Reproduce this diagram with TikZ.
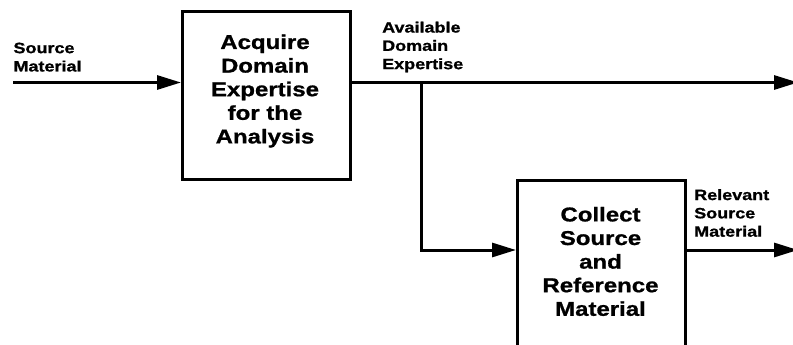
\documentclass[tikz,border=0pt]{standalone}
\usepackage{fontspec}
\newfontfamily\dfont[FakeStretch=1.2,FakeBold=1]{Liberation Sans Bold}
\usetikzlibrary{arrows.meta}
\tikzset{
  procbox/.style={draw, line width=3.4pt, minimum width=168pt, minimum height=167.5pt, inner sep=0pt, anchor=north west},
  boxtext/.style={font=\dfont\fontsize{20}{23.6}\selectfont, align=center, inner sep=0pt, anchor=north},
  lbl/.style={font=\dfont\fontsize{15}{18.3}\selectfont, align=left, inner sep=0pt, anchor=north west},
  flow/.style={line width=3pt, -{Triangle[length=24pt,width=14pt]}}
}
\begin{document}
\begin{tikzpicture}[x=1pt,y=-1pt]
\clip (0,0) rectangle (793,345);
% boxes
\node[procbox] (b1) at (181,10) {};
\node[procbox, minimum height=175pt] (b2) at (516,179) {};
\node[boxtext] (t1) at (265,34.3) {Acquire\\Domain\\Expertise\\for the\\Analysis};
\node[boxtext] (t2) at (600.5,206.7) {Collect\\Source\\and\\Reference\\Material};
% labels
\node[lbl] (lsrc) at (13.3,42.5) {Source\\Material};
\node[lbl] (lavail) at (382,21.5) {Available\\Domain\\Expertise};
\node[lbl] (lrel) at (694,189) {Relevant\\Source\\Material};
% coordinates
\coordinate (src) at (13,82.5);
\coordinate (outA) at (798,82.5);
\coordinate (br) at (421,82.5);
\coordinate (lvl2) at (0,250);
% connectors
\draw[flow] (src) -- (src -| b1.west);
\draw[flow] (src -| b1.east) -- (outA);
\draw[flow] (br) |- (lvl2 -| b2.west);
\draw[flow] (lvl2 -| b2.east) -- (lvl2 -| outA);
\end{tikzpicture}
\end{document}
